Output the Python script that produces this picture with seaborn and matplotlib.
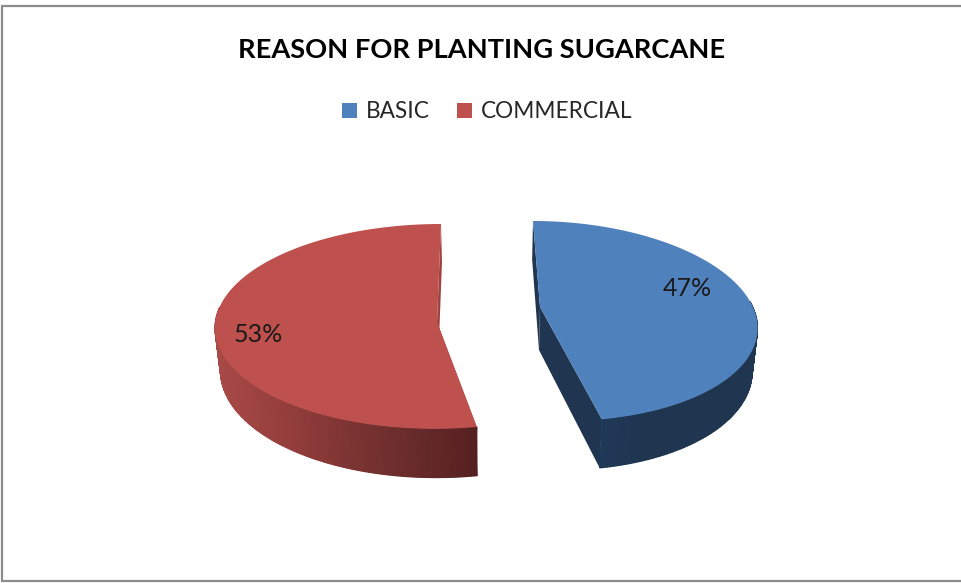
import numpy as np
import matplotlib
matplotlib.use("Agg")
import matplotlib.pyplot as plt
from matplotlib.colors import LinearSegmentedColormap
from matplotlib.patches import Patch
import seaborn as sns

# data
categories = ["BASIC", "COMMERCIAL"]
values = [47, 53]
title = "REASON FOR PLANTING SUGARCANE"

sns.set_theme(style="white")
plt.rcParams["font.family"] = ["Lato", "DejaVu Sans"]
palette = sns.color_palette(["#4F81BD", "#BE504D"])

W, H = 961, 583
fig = plt.figure(figsize=(W / 100, H / 100), dpi=100)
ax = fig.add_axes([0, 0, 1, 1])
ax.set_xlim(0, W)
ax.set_ylim(H, 0)
ax.axis("off")

# frame
FRAME = "#8C8C8C"
ax.plot([2, 2], [6, 581], color=FRAME, lw=1.6, solid_capstyle="butt")
ax.plot([1, W], [6, 6], color=FRAME, lw=1.6, solid_capstyle="butt")
ax.plot([1, W], [581, 581], color=FRAME, lw=1.6, solid_capstyle="butt")

# projection of the exploded 3D pie: each rim is an ellipse, apex sits off-centre
XV = 490.0
DEPTH = 43.0
KD = 0.12
STYLE = {
    "BASIC": dict(Cx=548, Cy=321, Rx=209, Ry=100, s=15, apex=(540, 307),
                  side=["#1F3550", "#1F3550", "#1F3550", "#21395A", "#28476C"],
                  cut="#1F3550"),
    "COMMERCIAL": dict(Cx=438, Cy=326.4, Rx=223, Ry=102.4, s=-3, apex=(437, 322),
                       side=["#A84A47", "#963F3D", "#7E3533", "#682C2B", "#552120"],
                       cut="#A0423F"),
}


def rim(u, v, st):
    return st["Cx"] + st["Rx"] * u + st["s"] * v, st["Cy"] + st["Ry"] * v


def drop(x, y, v):
    return XV + (x - XV) * 0.98, y + DEPTH / (1 - KD * v)


bounds = np.concatenate([[0], np.cumsum(values)]) / np.sum(values) * 360.0

for i, name in enumerate(categories):
    st = STYLE[name]
    a0, a1 = np.deg2rad(bounds[i]), np.deg2rad(bounds[i + 1])
    th = np.linspace(a0, a1, 240)
    u, v = np.sin(th), -np.cos(th)  # clockwise from 12 o'clock; v>0 is toward viewer
    ax0, ay0 = st["apex"]
    bx0, by0 = drop(ax0, ay0, 0)

    # cut faces
    for a in (a0, a1):
        tx1, ty1 = rim(np.sin(a), -np.cos(a), st)
        bx1, by1 = drop(tx1, ty1, -np.cos(a))
        ax.fill([ax0, tx1, bx1, bx0], [ay0, ty1, by1, by0], color=st["cut"], lw=0)

    # curved side, gradient along the horizontal position
    cmap = LinearSegmentedColormap.from_list(name, st["side"])
    tx, ty = rim(u, v, st)
    bx, by = drop(tx, ty, v)
    keep = v > -0.2
    f = (tx - tx.min()) / (tx.max() - tx.min())
    if name == "BASIC":
        f = 1 - f
    ax.pcolormesh(np.vstack([tx[keep], bx[keep]]), np.vstack([ty[keep], by[keep]]),
                  np.vstack([f[keep], f[keep]]), shading="gouraud",
                  cmap=cmap, vmin=0, vmax=1)

    # top face
    ax.fill(np.r_[ax0, tx], np.r_[ay0, ty], color=palette[i], lw=0)

ax.set_xlim(0, W)
ax.set_ylim(H, 0)

# text
ax.text(482, 49.5, title, ha="center", va="center", fontsize=19.6,
        fontweight="bold", color="black")
ax.text(687, 288.5, f"{values[0]}%", ha="center", va="center", fontsize=18, color="#1A1A1A")
ax.text(258, 334.5, f"{values[1]}%", ha="center", va="center", fontsize=18, color="#1A1A1A")

handles = [Patch(facecolor=palette[i], edgecolor="none", label=c) for i, c in enumerate(categories)]
leg = ax.legend(handles=handles, loc="center", bbox_to_anchor=(487.5 / W, 1 - 112 / H),
                bbox_transform=fig.transFigure, ncol=2, frameon=False, fontsize=16.3,
                handlelength=0.66, handleheight=0.66, handletextpad=0.4,
                columnspacing=1.2, labelcolor="#262626")

fig.savefig("out.png", dpi=100, facecolor="white")
